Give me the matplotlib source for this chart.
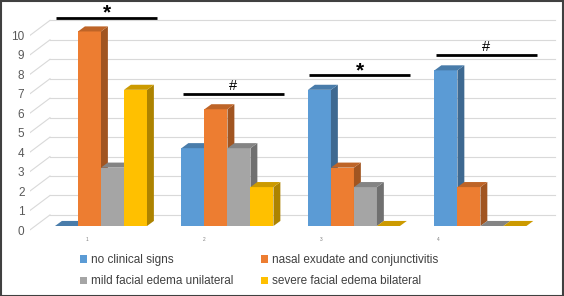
import numpy as np
import matplotlib
matplotlib.use("Agg")
import matplotlib.pyplot as plt
from matplotlib.patches import Polygon, Rectangle
from matplotlib.transforms import ScaledTranslation
from matplotlib.colors import to_rgb

plt.rcParams['font.family'] = ['Liberation Sans', 'DejaVu Sans']

# ---- data ----
groups = ["1", "2", "3", "4"]
series = ["no clinical signs", "nasal exudate and conjunctivitis",
          "mild facial edema unilateral", "severe facial edema bilateral"]
no_signs = [0, 4, 7, 8]
nasal = [10, 6, 3, 2]
mild = [3, 4, 2, 0]
severe = [7, 2, 0, 0]
sig_marks = ["*", "#", "*", "#"]
sig_levels = [10.7, 6.8, 7.75, 8.8]
yticks = list(range(0, 11))

values = [no_signs, nasal, mild, severe]
colors = ["#5B9BD5", "#ED7D31", "#A5A5A5", "#FFC000"]

# pseudo-3D geometry (data units)
GROUP_STEP = 5.5
DX, DY = 0.30, 0.26        # bar depth offset
WALL_DY = 0.57             # back wall offset of gridlines
FRONT_DY = -0.2


def shade(c, f):
    r, g, b = to_rgb(c)
    return (r * f, g * f, b * f)


W, H = 564, 296
fig = plt.figure(figsize=(W / 100, H / 100), dpi=100)
ax = fig.add_axes([30 / W, 1 - 236 / H, 530 / W, 231 / H])
ax.set_xlim(-1.087, 21.96)
ax.set_ylim(-0.514, 11.36)
for s in ax.spines.values():
    s.set_visible(False)

# gridlines: slanted floor part + back wall
x_wall, x_front, x_end = -0.217, -1.087, 21.74
for v in yticks:
    ax.plot([x_front, x_wall], [v + FRONT_DY, v + WALL_DY], color="#D9D9D9", lw=0.8, zorder=1)
    ax.plot([x_wall, x_end], [v + WALL_DY, v + WALL_DY], color="#D9D9D9", lw=0.8, zorder=1)

# bars
for g in range(len(groups)):
    x0 = g * GROUP_STEP
    for j in range(len(series)):
        v = values[j][g]
        left, right = x0 + j, x0 + j + 1
        c = colors[j]
        if v > 0:
            ax.add_patch(Rectangle((left, 0), 1, v, facecolor=c, edgecolor="none", zorder=3))
            ax.add_patch(Polygon([(right, 0), (right + DX, DY), (right + DX, v + DY), (right, v)],
                                 facecolor=shade(c, 0.68), edgecolor="none", zorder=3))
        ax.add_patch(Polygon([(left, v), (right, v), (right + DX, v + DY), (left + DX, v + DY)],
                             facecolor=shade(c, 0.8), edgecolor="none", zorder=3))

    # significance bar
    ax.plot([x0 + 0.05, x0 + 4.45], [sig_levels[g]] * 2, color="black", lw=2, zorder=4,
            solid_capstyle="butt")
    if sig_marks[g] == "*":
        ax.text(x0 + 2.25, sig_levels[g] - 0.05, "*", ha="center", va="baseline",
                fontsize=15, fontweight="bold", color="black", zorder=4)
    else:
        ax.text(x0 + 2.25, sig_levels[g] + 0.17, "#", ha="center", va="baseline",
                fontsize=10.5, color="black", zorder=4)

# axis labels
ax.set_yticks(yticks)
ax.set_yticklabels([str(v) for v in yticks], fontsize=8.5, color="#595959")
ax.tick_params(axis="y", length=0, pad=4)
off = ScaledTranslation(0, -4 / 100, fig.dpi_scale_trans)
for lbl in ax.get_yticklabels():
    lbl.set_transform(lbl.get_transform() + off)

ax.set_xticks([1.39 + g * 5.09 for g in range(len(groups))])
ax.set_xticklabels(groups, fontsize=3.5, color="#808080")
ax.tick_params(axis="x", length=0, pad=1)

# legend
handles = [Rectangle((0, 0), 1, 1, facecolor=c, edgecolor="none") for c in colors]
order = [0, 2, 1, 3]
fig.legend([handles[i] for i in order], [series[i] for i in order], ncol=2,
           loc="upper left", bbox_to_anchor=(80 / W, 1 - 254 / H), frameon=False,
           fontsize=8.5, handlelength=0.6, handleheight=0.6, handletextpad=0.35,
           columnspacing=2.3, labelspacing=0.8, borderpad=0, borderaxespad=0,
           labelcolor="#404040")

# outer frame
fig.add_artist(Rectangle((0.5 / W, 0.5 / H), 1 - 1.5 / W, 1 - 1.5 / H,
                         transform=fig.transFigure, fill=False, edgecolor="#404040", lw=1.5))

fig.savefig("out.png", dpi=100)
